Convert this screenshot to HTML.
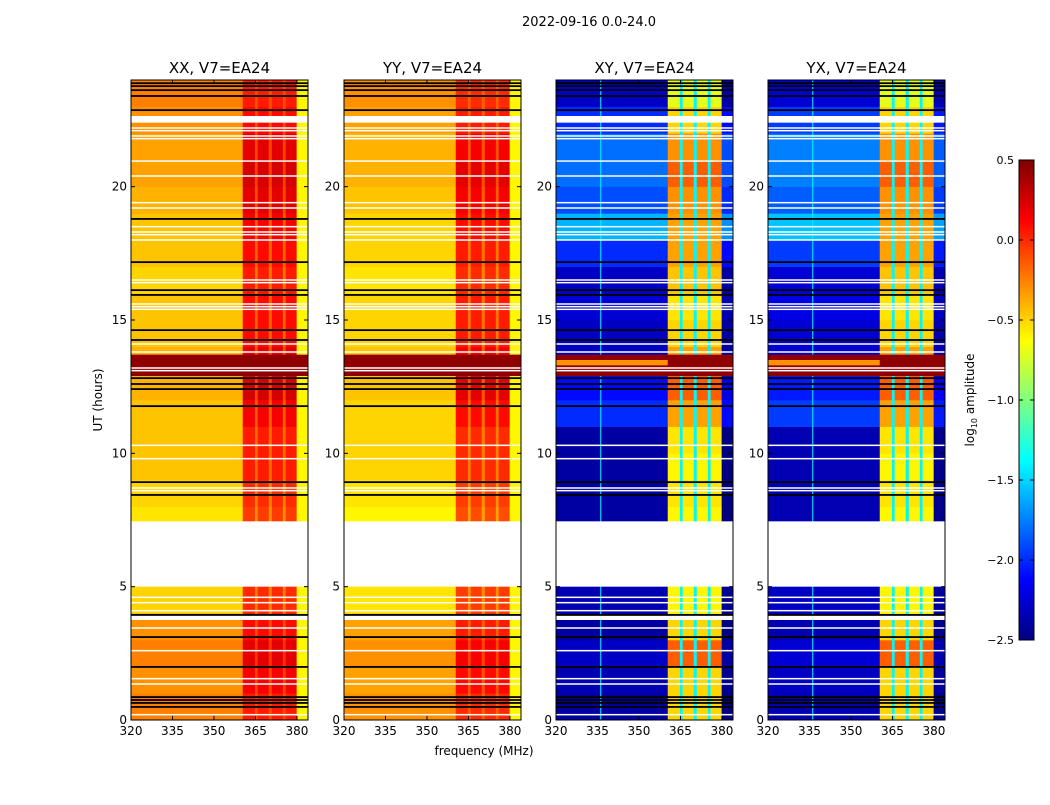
<!DOCTYPE html>
<html><head><meta charset="utf-8"><style>
body{margin:0;background:#fff;font-family:"Liberation Sans","DejaVu Sans",sans-serif;}
svg text{font-family:"DejaVu Sans","Liberation Sans",sans-serif;}
</style></head><body>
<svg id="fig" width="1050" height="800" viewBox="0 0 1050 800" xmlns="http://www.w3.org/2000/svg">
<rect width="1050" height="800" fill="#fff"/>
<text x="589" y="26" font-size="13" text-anchor="middle">2022-09-16 0.0-24.0</text>
<text x="484" y="755" font-size="12" text-anchor="middle">frequency (MHz)</text>
<text transform="translate(102,400) rotate(-90)" font-size="12" text-anchor="middle">UT (hours)</text>
<g id="panels"></g>
<g id="cbar"></g>
<text transform="translate(974,400) rotate(-90)" font-size="12" text-anchor="middle">log<tspan font-size="8" dy="3">10</tspan><tspan dy="-3"> amplitude</tspan></text>
</svg>
<script>
const panelTitles = ["XX, V7=EA24","YY, V7=EA24","XY, V7=EA24","YX, V7=EA24"];
const freqEdges = [320,360.4,364.8,365.8,369.8,370.9,374.9,375.9,379.9,384];
const colTypes = ["bg","band","gap","band","gap","band","gap","band","edge"];
const xxBg =   [-0.25,-0.3,-0.25,-0.3,-0.5,-0.5,-0.5,-0.55,-0.5,-0.45,-0.45,-0.45,-0.4,-0.4,-0.45,-0.45,-0.5,-0.45,-0.45,-0.4,-0.35,-0.35,-0.3,-0.25];
const xxBand = [0.05,0.15,0.2,0.1,0.0,0.0,0.0,-0.05,0.0,0.05,0.05,0.15,0.25,0.2,0.1,0.1,0.05,0.1,0.15,0.2,0.25,0.2,0.1,0.05];
const yyBg =   [-0.3,-0.35,-0.3,-0.35,-0.55,-0.55,-0.55,-0.6,-0.55,-0.5,-0.5,-0.5,-0.45,-0.45,-0.5,-0.5,-0.55,-0.5,-0.5,-0.45,-0.4,-0.4,-0.35,-0.3];
const yyBand = [0.0,0.1,0.15,0.05,-0.05,-0.05,-0.05,-0.1,-0.05,0.0,0.0,0.1,0.2,0.15,0.05,0.05,0.0,0.05,0.1,0.15,0.2,0.15,0.05,0.0];
const xyBg =   [-2.4,-2.35,-2.3,-2.4,-2.35,-2.3,-2.3,-2.4,-2.4,-2.4,-2.4,-2.0,-2.1,-2.3,-2.3,-2.25,-2.3,-2.0,-1.6,-1.9,-1.8,-1.8,-2.0,-2.3];
const xyBand = [-0.5,-0.5,-0.15,-0.5,-0.6,-0.55,-0.55,-0.6,-0.55,-0.6,-0.55,-0.35,-0.15,-0.35,-0.5,-0.55,-0.45,-0.35,-0.35,-0.3,-0.15,-0.3,-0.5,-0.7];
const redBlock = [12.9,13.7];
const whiteBlocks = [[5.0,7.45],[22.4,22.65],[3.75,3.95]];
const whiteLines = [22.2,22.1,21.9,21.8,20.96,20.4,19.4,19.2,18.5,18.3,18.2,18.0,16.5,16.4,15.6,15.5,15.4,14.1,13.8,13.2,13.1,10.3,9.8,8.7,8.6,4.6,4.4,4.1,3.45,2.6,1.55,1.35,0.2];
const blackLines = [23.88,23.77,23.62,23.4,22.87,18.79,17.17,16.12,15.94,14.62,14.25,12.82,12.6,12.41,11.77,8.92,8.44,3.94,3.11,1.99,0.86,0.75,0.64,0.49];
const xTicks = [320,335,350,365,380];
const yTicks = [0,5,10,15,20];
const cbTicks = [0.5,0.0,-0.5,-1.0,-1.5,-2.0,-2.5];

const NS="http://www.w3.org/2000/svg";
const panelX=[131,344,556,768], PW=177, PT=80, PB=720;
const vmin=-2.5, vmax=0.5;
function jet(v){let t=(v-vmin)/(vmax-vmin);t=Math.max(0,Math.min(1,t));
 const f=x=>Math.max(0,Math.min(1,x));
 const r=f(1.5-Math.abs(4*t-3)),g=f(1.5-Math.abs(4*t-2)),b=f(1.5-Math.abs(4*t-1));
 return `rgb(${Math.round(r*255)},${Math.round(g*255)},${Math.round(b*255)})`;}
function el(tag,attrs,parent){const e=document.createElementNS(NS,tag);for(const k in attrs)e.setAttribute(k,attrs[k]);parent.appendChild(e);return e;}
const yS=h=>PB-(h/24)*(PB-PT);
const panels=document.getElementById('panels');
const sets=[[xxBg,xxBand,false],[yyBg,yyBand,false],[xyBg,xyBand,true],[xyBg.map(v=>v+0.05),xyBand,true]];
panelTitles.forEach((title,p)=>{
 const x0=panelX[p];const xS=f=>x0+(f-320)/(384-320)*PW;
 const g=el('g',{},panels);
 
 
 const [bg,band,cross]=sets[p];
 for(let h=0;h<24;h++){
  for(let c=0;c<colTypes.length;c++){
   const t=colTypes[c];let v;
   if(t==='bg')v=bg[h];else if(t==='band')v=band[h];
   else if(t==='gap')v=cross?-1.4:(bg[h]+band[h])/2;
   else v=cross?bg[h]-0.1:-0.6;
   const r=el('rect',{x:xS(freqEdges[c]),y:yS(h+1),width:xS(freqEdges[c+1])-xS(freqEdges[c])+0.3,height:yS(h)-yS(h+1)+0.3,fill:jet(v)},g);
   
   
  }
 }
 if(cross){const l=el('rect',{x:xS(336),y:PT,width:1,height:PB-PT,fill:jet(-1.4)},g);
  }
 const rb=el('rect',{x:x0,y:yS(redBlock[1]),width:PW,height:yS(redBlock[0])-yS(redBlock[1]),fill:jet(0.45)},g);
 
 if(cross){const rb2=el('rect',{x:x0,y:yS(13.5),width:xS(360.4)-x0,height:yS(13.3)-yS(13.5),fill:jet(-0.3)},g);
  }
 whiteBlocks.forEach(b=>{const r=el('rect',{x:x0,y:yS(b[1]),width:PW,height:yS(b[0])-yS(b[1]),fill:'#fff'},g);
  });
 whiteLines.forEach(h=>{const r=el('rect',{x:x0,y:yS(h)-0.75,width:PW,height:1.5,fill:'#fff'},g);
  });
 blackLines.forEach(h=>{const r=el('rect',{x:x0,y:yS(h)-0.9,width:PW,height:1.8,fill:'#000'},g);
  });
 const fr=el('rect',{x:x0,y:PT,width:PW,height:PB-PT,fill:'none',stroke:'#000','stroke-width':1},g);
 
 const tt=el('text',{x:x0+PW/2,y:73,'font-size':15,'text-anchor':'middle'},g);tt.textContent=title;
 
 xTicks.forEach(f=>{const x=xS(f);
  el('line',{x1:x,x2:x,y1:PB,y2:PB-4,stroke:'#000'},g);el('line',{x1:x,x2:x,y1:PT,y2:PT+4,stroke:'#000'},g);
  const t=el('text',{x:x,y:PB+15,'font-size':12,'text-anchor':'middle'},g);t.textContent=f;
  });
 yTicks.forEach(h=>{const y=yS(h);
  el('line',{x1:x0,x2:x0+4,y1:y,y2:y,stroke:'#000'},g);el('line',{x1:x0+PW,x2:x0+PW-4,y1:y,y2:y,stroke:'#000'},g);
  const t=el('text',{x:x0-4,y:y+4,'font-size':12,'text-anchor':'end'},g);t.textContent=h;
  });
});
// colorbar
const cb=document.getElementById('cbar');const cx=1019,cw=15,ct=160,cbt=640;
const cyS=v=>cbt-(v-vmin)/(vmax-vmin)*(cbt-ct);
for(let i=0;i<240;i++){const v=vmin+(i+0.5)/240*(vmax-vmin);
 el('rect',{x:cx,y:cyS(vmin+(i+1)/240*(vmax-vmin)),width:cw,height:2.3,fill:jet(v)},cb);}
el('rect',{x:cx,y:ct,width:cw,height:cbt-ct,fill:'none',stroke:'#000'},cb);
cbTicks.forEach(v=>{const y=cyS(v);el('line',{x1:cx+cw,x2:cx+cw-4,y1:y,y2:y,stroke:'#000'},cb);
 el('line',{x1:cx,x2:cx+4,y1:y,y2:y,stroke:'#000'},cb);
 const t=el('text',{x:1014,y:y+4,'font-size':11,'text-anchor':'end'},cb);t.textContent=(v<0?'\u2212':'')+Math.abs(v).toFixed(1);
 });
</script>
</body></html>
